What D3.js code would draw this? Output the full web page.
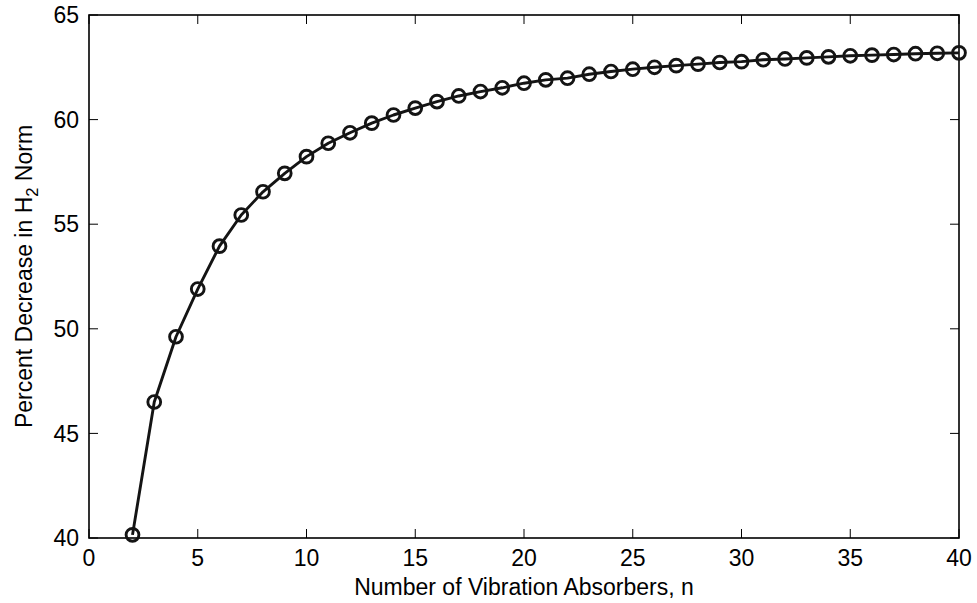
<!DOCTYPE html>
<html><head><meta charset="utf-8">
<script src="https://cdn.jsdelivr.net/npm/d3@7"></script>
<style>body{margin:0;background:#fff}svg{display:block}text{font-family:"Liberation Sans",Arial,sans-serif;fill:#000}</style>
</head><body>
<svg id="c" width="977" height="603"></svg>
<script>
const nValues = [2,3,4,5,6,7,8,9,10,11,12,13,14,15,16,17,18,19,20,21,22,23,24,25,26,27,28,29,30,31,32,33,34,35,36,37,38,39,40];
const percentDecrease = [40.15,46.5,49.62,51.9,53.95,55.44,56.55,57.43,58.23,58.87,59.37,59.83,60.22,60.55,60.86,61.13,61.34,61.52,61.74,61.9,61.98,62.17,62.3,62.41,62.5,62.58,62.65,62.73,62.77,62.86,62.9,62.95,63.0,63.05,63.08,63.11,63.15,63.17,63.19];
const xTicks = [0,5,10,15,20,25,30,35,40];
const yTicks = [40,45,50,55,60,65];

const svg = d3.select("#c");
const L=89, R=959, T=15, B=538;
const x = d3.scaleLinear().domain([0,40]).range([L,R]);
const y = d3.scaleLinear().domain([40,65]).range([B,T]);
const fs = 23;

// ticks inward, mirrored
const g = svg.append("g");
xTicks.forEach(t=>{
  g.append("line").attr("x1",x(t)).attr("x2",x(t)).attr("y1",B).attr("y2",B-9).attr("stroke","#000").attr("stroke-width",1);
  g.append("line").attr("x1",x(t)).attr("x2",x(t)).attr("y1",T).attr("y2",T+9).attr("stroke","#000").attr("stroke-width",1);
  g.append("text").attr("x",x(t)).attr("y",566).attr("text-anchor","middle").attr("font-size",fs).text(t);
});
yTicks.forEach(t=>{
  g.append("line").attr("x1",L).attr("x2",L+9).attr("y1",y(t)).attr("y2",y(t)).attr("stroke","#000").attr("stroke-width",1);
  g.append("line").attr("x1",R).attr("x2",R-9).attr("y1",y(t)).attr("y2",y(t)).attr("stroke","#000").attr("stroke-width",1);
  g.append("text").attr("x",L-10).attr("y",y(t)).attr("dy","0.36em").attr("text-anchor","end").attr("font-size",fs).text(t);
});
g.append("rect").attr("x",L).attr("y",T).attr("width",R-L).attr("height",B-T).attr("fill","none").attr("stroke","#000").attr("stroke-width",1.6);

// line + markers
const pts = nValues.map((n,i)=>[n,percentDecrease[i]]);
svg.append("path").datum(pts)
  .attr("d", d3.line().x(d=>x(d[0])).y(d=>y(d[1])))
  .attr("fill","none").attr("stroke","#141414").attr("stroke-width",2.9).attr("stroke-linejoin","round");
svg.append("g").selectAll("circle").data(pts).join("circle")
  .attr("cx",d=>x(d[0])).attr("cy",d=>y(d[1])).attr("r",6.4)
  .attr("fill","none").attr("stroke","#141414").attr("stroke-width",2.9);

// labels
svg.append("text").attr("x",(L+R)/2).attr("y",595).attr("text-anchor","middle").attr("font-size",fs)
  .text("Number of Vibration Absorbers, n");
const yl = svg.append("text").attr("transform",`translate(32,${(T+B)/2}) rotate(-90)`).attr("text-anchor","middle").attr("font-size",fs);
yl.append("tspan").text("Percent Decrease in H");
yl.append("tspan").attr("font-size",fs*0.72).attr("dy",6).text("2");
yl.append("tspan").attr("dy",-6).text(" Norm");
</script>
</body></html>
